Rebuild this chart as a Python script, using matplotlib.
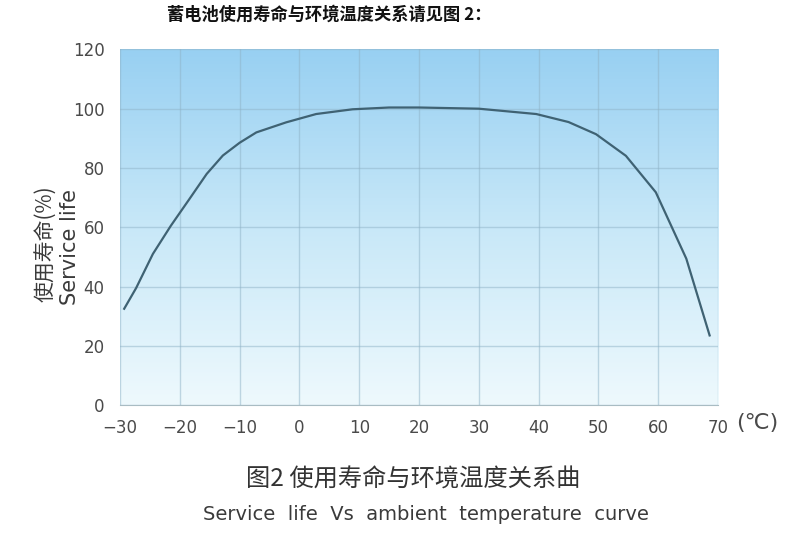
import numpy as np
import matplotlib
matplotlib.use('Agg')
import matplotlib.pyplot as plt
from matplotlib.colors import LinearSegmentedColormap

# data
temp = [-29.3, -27.3, -24.5, -21.5, -18.4, -15.5, -12.8, -10.0, -7.2, -2.2, 2.8, 8.9, 15, 20, 30, 39.6, 45, 49.6, 54.6, 59.6, 62.4, 64.7, 68.6]
life = [32.5, 39.5, 51, 60.5, 69.5, 78, 84.2, 88.5, 92, 95.4, 98.2, 99.8, 100.4, 100.4, 100.0, 98.2, 95.5, 91.4, 84.1, 71.8, 59.5, 49.4, 23.5]

xticks = [-30, -20, -10, 0, 10, 20, 30, 40, 50, 60, 70]
yticks = [0, 20, 40, 60, 80, 100, 120]

cjk = ['Noto Sans CJK SC', 'DejaVu Sans']

fig = plt.figure(figsize=(8, 5.43), dpi=100)
fig.patch.set_facecolor('white')
ax = fig.add_axes([0.15, 0.254, 0.7475, 0.655])

# blue gradient background, darker at the top
cmap = LinearSegmentedColormap.from_list('bg', ['#eef9fd', '#c8e8f8', '#98d0f2'])
grad = np.linspace(0, 1, 256).reshape(-1, 1)
ax.imshow(grad, cmap=cmap, aspect='auto', origin='lower',
          extent=[-30, 70, 0, 120], zorder=0)

ax.plot(temp, life, color='#3f6273', lw=1.6, zorder=3)

ax.set_xlim(-30, 70)
ax.set_ylim(0, 120)
ax.set_xticks(xticks)
ax.set_yticks(yticks)
ax.grid(True, color='#8fb3c7', lw=1.0, alpha=0.5, zorder=1)
ax.set_axisbelow(False)
for s in ax.spines.values():
    s.set_visible(False)
ax.spines['bottom'].set_visible(True)
ax.spines['bottom'].set_color('#a9bcc3')
ax.tick_params(length=0, colors='#4a4a4a', labelsize=12)
ax.tick_params(axis='x', pad=10)
ax.tick_params(axis='y', pad=11)

fig.text(0.946, 0.221, '(℃)', fontsize=16, color='#4a4a4a',
         ha='center', va='center')

# y-axis label, two lines
fig.text(0.058, 0.552, '使用寿命(%)', rotation=90, fontsize=15, family=cjk,
         color='#3a3a3a', ha='center', va='center')
fig.text(0.087, 0.545, 'Service life', rotation=90, fontsize=15, family=cjk[1:],
         color='#3a3a3a', ha='center', va='center')

# heading above the chart
fig.text(0.412, 0.973, '蓄电池使用寿命与环境温度关系请见图 2：', fontsize=12.4,
         fontweight='bold', family=cjk, color='#111111', ha='center', va='center')

# caption below the chart
fig.text(0.517, 0.116, '图2 使用寿命与环境温度关系曲', fontsize=17.5, family=cjk,
         color='#333333', ha='center', va='center')
fig.text(0.533, 0.052, 'Service  life  Vs  ambient  temperature  curve', fontsize=14,
         family=cjk[1:], color='#3a3a3a', ha='center', va='center')

fig.savefig('out.png', dpi=100)
